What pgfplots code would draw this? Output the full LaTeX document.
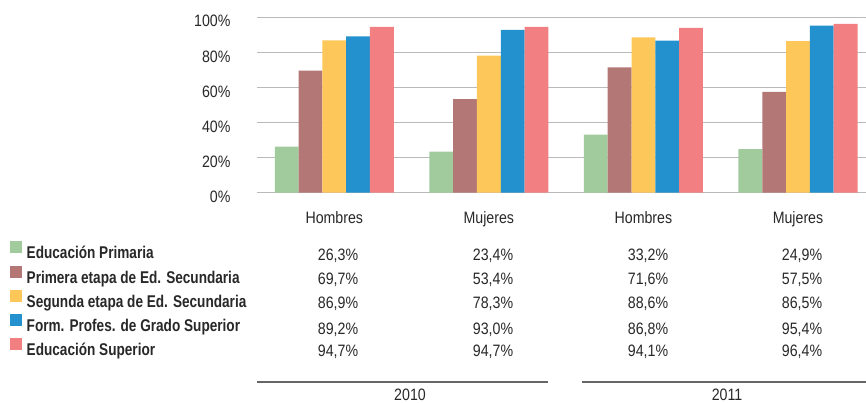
\documentclass[border=0pt]{standalone}
\usepackage{pgfplots}
\pgfplotsset{compat=1.18}
\usepackage{fontspec}
\setmainfont{Liberation Sans}[FakeStretch=0.86]
\newfontfamily\legfont{Liberation Sans}[FakeStretch=0.80]
\definecolor{cPrim}{RGB}{161,203,156}
\definecolor{cSec1}{RGB}{179,119,117}
\definecolor{cSec2}{RGB}{254,199,90}
\definecolor{cFP}{RGB}{35,145,205}
\definecolor{cSup}{RGB}{242,128,130}
\definecolor{txt}{RGB}{40,40,40}
\begin{document}
\begin{tikzpicture}
\path[use as bounding box] (0pt,0pt) rectangle (866pt,403pt);
\begin{axis}[
  at={(257pt,210.3pt)}, anchor=south west,
  scale only axis, width=609pt, height=175.2pt,
  ybar=0pt, bar width=23.8pt,
  xmin=-0.5, xmax=3.44, ymin=0, ymax=100,
  xtick={0,1,2,3}, xticklabels={Hombres,Mujeres,Hombres,Mujeres},
  ytick={0,20,40,60,80,100},
  yticklabel={\pgfmathprintnumber{\tick}\%},
  /pgf/number format/assume math mode=true,
  axis line style={draw=none},
  major tick length=0pt, tick style={draw=none},
  ymajorgrids, major grid style={draw=black!27, line width=1.2pt},
  extra y ticks={0}, extra y tick labels={},
  extra y tick style={grid style={draw=black!68, line width=1.8pt}},
  xticklabel style={anchor=base, inner sep=0pt, yshift=-31.2pt, font=\fontsize{16.5}{18}\selectfont, text=txt},
  yticklabel style={anchor=base east, inner sep=0pt, xshift=-26.3pt, yshift=-9.5pt, font=\fontsize{16.5}{18}\selectfont, text=txt},
  clip=false,
  legend cell align=left,
  legend image code/.code={\fill[#1] (0pt,1pt) rectangle (12pt,13pt);},
  legend style={at={(axis description cs:-0.40558,-0.278)}, anchor=north west,
    draw=none, fill=none, inner sep=0pt, outer sep=0pt,
    row sep=2.6pt, column sep=4.7pt,
    nodes={inner sep=0pt, text height=13pt, text depth=4pt},
    font=\legfont\bfseries\fontsize{17}{19}\selectfont, text=txt},
]
\addplot[draw=none, fill=cPrim] coordinates {(0,26.3) (1,23.4) (2,33.2) (3,24.9)};
\addlegendentry{Educación Primaria}
\addplot[draw=none, fill=cSec1] coordinates {(0,69.7) (1,53.4) (2,71.6) (3,57.5)};
\addlegendentry{Primera etapa de Ed. Secundaria}
\addplot[draw=none, fill=cSec2] coordinates {(0,86.9) (1,78.3) (2,88.6) (3,86.5)};
\addlegendentry{Segunda etapa de Ed. Secundaria}
\addplot[draw=none, fill=cFP] coordinates {(0,89.2) (1,93.0) (2,86.8) (3,95.4)};
\addlegendentry{Form. Profes. de Grado Superior}
\addplot[draw=none, fill=cSup] coordinates {(0,94.7) (1,94.7) (2,94.1) (3,96.4)};
\addlegendentry{Educación Superior}
\end{axis}
\begin{scope}[every node/.style={anchor=base, inner sep=0pt, font=\fontsize{16.5}{18}\selectfont, text=txt}]
\node at (338pt,142.8pt) {26,3\%};
\node at (338pt,118.1pt) {69,7\%};
\node at (338pt,94.4pt) {86,9\%};
\node at (338pt,68.1pt) {89,2\%};
\node at (338pt,46.4pt) {94,7\%};
\node at (493pt,142.8pt) {23,4\%};
\node at (493pt,118.1pt) {53,4\%};
\node at (493pt,94.4pt) {78,3\%};
\node at (493pt,68.1pt) {93,0\%};
\node at (493pt,46.4pt) {94,7\%};
\node at (648pt,142.8pt) {33,2\%};
\node at (648pt,118.1pt) {71,6\%};
\node at (648pt,94.4pt) {88,6\%};
\node at (648pt,68.1pt) {86,8\%};
\node at (648pt,46.4pt) {94,1\%};
\node at (802pt,142.8pt) {24,9\%};
\node at (802pt,118.1pt) {57,5\%};
\node at (802pt,94.4pt) {86,5\%};
\node at (802pt,68.1pt) {95,4\%};
\node at (802pt,46.4pt) {96,4\%};
\draw[black!60, line width=1.3pt] (257pt,21pt) -- (548pt,21pt);
\draw[black!60, line width=1.3pt] (582pt,21pt) -- (866pt,21pt);
\node at (410pt,2pt) {2010};
\node at (727pt,2pt) {2011};
\end{scope}
\end{tikzpicture}
\end{document}
